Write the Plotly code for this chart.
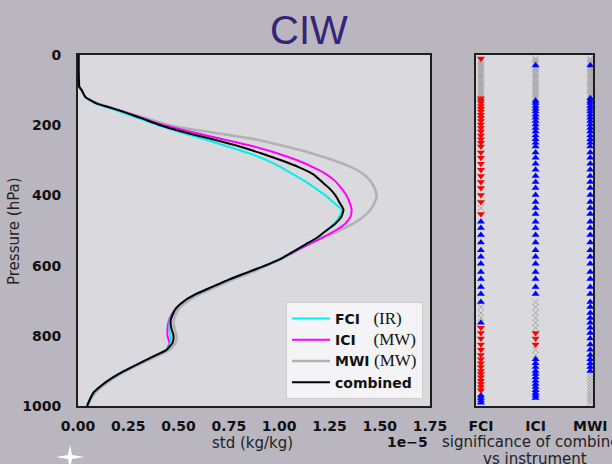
import plotly.graph_objects as go

# ---------------------------------------------------------------------------
# Standard deviation profiles (units of 1e-5 kg/kg) on pressure levels (hPa)
# ---------------------------------------------------------------------------
pressure = [0, 20, 40, 60, 80, 90, 100, 110, 120, 130, 140, 150, 160, 170, 180,
            200, 220, 240, 260, 280, 300, 320, 340, 360, 380, 400, 420, 440, 460,
            480, 500, 520, 540, 560, 580, 600, 620, 640, 660, 680, 700, 720, 740,
            760, 780, 800, 820, 840, 860, 880, 900, 920, 940, 960, 980, 1000]

std_fci = [0.003, 0.003, 0.003, 0.004, 0.005, 0.006, 0.018, 0.027, 0.037, 0.06,
           0.095, 0.15, 0.20, 0.25, 0.30, 0.40, 0.51, 0.63, 0.74, 0.85, 0.94,
           1.01, 1.07, 1.13, 1.18, 1.23, 1.27, 1.31, 1.30, 1.275, 1.235, 1.19,
           1.13, 1.07, 1.01, 0.93, 0.84, 0.75, 0.67, 0.59, 0.53, 0.49, 0.47,
           0.455, 0.455, 0.46, 0.46, 0.44, 0.37, 0.30, 0.23, 0.17, 0.12, 0.08,
           0.06, 0.045]

std_ici = [0.003, 0.003, 0.003, 0.004, 0.005, 0.006, 0.018, 0.027, 0.037, 0.065,
           0.10, 0.16, 0.215, 0.27, 0.32, 0.43, 0.57, 0.72, 0.87, 0.99, 1.09,
           1.17, 1.235, 1.28, 1.31, 1.335, 1.35, 1.36, 1.355, 1.33, 1.28, 1.215,
           1.145, 1.075, 1.01, 0.93, 0.84, 0.75, 0.67, 0.59, 0.53, 0.49, 0.465,
           0.45, 0.445, 0.445, 0.455, 0.44, 0.37, 0.30, 0.23, 0.17, 0.12, 0.08,
           0.06, 0.045]

std_mwi = [0.003, 0.003, 0.003, 0.004, 0.005, 0.006, 0.018, 0.027, 0.038, 0.07,
           0.11, 0.17, 0.225, 0.28, 0.34, 0.45, 0.66, 0.88, 1.03, 1.16, 1.27,
           1.36, 1.42, 1.455, 1.475, 1.485, 1.475, 1.455, 1.42, 1.37, 1.30, 1.22,
           1.14, 1.08, 1.015, 0.94, 0.86, 0.77, 0.69, 0.61, 0.55, 0.505, 0.485,
           0.475, 0.48, 0.49, 0.485, 0.455, 0.385, 0.31, 0.24, 0.18, 0.13, 0.09,
           0.065, 0.05]

std_combined = [0.003, 0.003, 0.003, 0.004, 0.005, 0.006, 0.018, 0.027, 0.037,
                0.065, 0.10, 0.16, 0.215, 0.265, 0.315, 0.41, 0.53, 0.67, 0.80,
                0.91, 1.01, 1.10, 1.17, 1.21, 1.25, 1.28, 1.30, 1.32, 1.31, 1.28,
                1.235, 1.19, 1.13, 1.07, 1.01, 0.93, 0.84, 0.75, 0.67, 0.59, 0.53,
                0.49, 0.47, 0.46, 0.465, 0.475, 0.47, 0.44, 0.37, 0.30, 0.23,
                0.17, 0.12, 0.08, 0.06, 0.045]

# ---------------------------------------------------------------------------
# Significance of combined vs single instrument on model levels
#   u = combined significantly better, d = significantly worse, x = not significant
# ---------------------------------------------------------------------------
sig_levels = [10, 15, 20, 25, 30, 35, 40, 45, 50, 55, 60, 65, 70, 75, 80, 85, 90,
              95, 100, 105, 110, 115, 119,
              123, 130, 137, 145, 153, 161, 170, 179, 188, 198, 208, 218, 229,
              240, 250, 261,
              278, 293, 310, 327, 345, 362, 379, 399, 419, 436, 453, 475, 493,
              513, 534, 556, 575, 595, 618, 638, 661, 681, 704,
              718, 735, 749, 763, 777, 792, 808, 825, 840, 855, 867, 878, 889,
              900, 909, 918, 928, 937, 946, 955, 963, 970, 977, 984, 991]

sig_fci = ("d" + "x" * 22 +
           "d" * 16 +
           "d" * 9 + "x" + "d" + "u" * 12 +
           "xxx" + "u" + "d" * 16 + "x" + "u" * 4)
sig_ici = ("xxxx" + "u" + "x" * 18 +
           "x" + "u" * 15 +
           "u" * 22 + "x" +
           "x" * 5 + "ddd" + "xx" + "u" * 13)
sig_mwi = ("xxxx" + "u" + "x" * 18 +
           "u" * 16 +
           "u" * 23 +
           "u" * 14 + "x" * 11)

instruments = ["FCI", "ICI", "MWI"]
sig_codes = {"FCI": sig_fci, "ICI": sig_ici, "MWI": sig_mwi}

x_ticks = [0.00, 0.25, 0.50, 0.75, 1.00, 1.25, 1.50, 1.75]
y_ticks = [0, 200, 400, 600, 800, 1000]

# ---------------------------------------------------------------------------
W, H = 612, 464


def px(x):
    return x / W


def py(y):
    return 1 - y / H


BG = "#b9b6c0"
PLOT_BG = "#dad9de"
FRAME = "#1e1e1e"

fig = go.Figure()

serif = "font-family:'Liberation Serif',serif;font-weight:normal;font-size:17px"
profiles = [
    ("MWI", std_mwi, "#b2b2b2", 2.6, "<b>MWI</b> <span style=\"%s\">(MW)</span>" % serif, 3),
    ("ICI", std_ici, "#ff00ff", 2.0, "<b>ICI</b>    <span style=\"%s\">(MW)</span>" % serif, 2),
    ("FCI", std_fci, "#00f0f0", 2.0, "<b>FCI</b>   <span style=\"%s\">(IR)</span>" % serif, 1),
    ("combined", std_combined, "#000000", 2.0, "<b>combined</b>", 4),
]
for key, vals, color, width, label, rank in profiles:
    fig.add_trace(go.Scatter(
        x=vals, y=pressure, mode="lines", name=label, legendrank=rank,
        line=dict(color=color, width=width, shape="spline", smoothing=0.5),
        xaxis="x", yaxis="y", showlegend=True,
    ))

marker_styles = {
    "u": dict(symbol="triangle-up", color="#0000ff", size=7, line=dict(width=0)),
    "d": dict(symbol="triangle-down", color="#ff0000", size=7, line=dict(width=0)),
    "x": dict(symbol="x-thin", color="#a5a5a5", size=6,
              line=dict(width=1, color="#a5a5a5")),
}
for code in ["x", "u", "d"]:
    xs, ys = [], []
    for inst in instruments:
        for lev, c in zip(sig_levels, sig_codes[inst]):
            if c == code:
                xs.append(inst)
                ys.append(lev)
    fig.add_trace(go.Scatter(
        x=xs, y=ys, mode="markers", marker=marker_styles[code],
        xaxis="x2", yaxis="y2", showlegend=False,
    ))

tick_font = dict(family="DejaVu Sans", size=14, color="#111111", weight="bold")
axis_common = dict(showgrid=False, zeroline=False, showline=True, mirror=True,
                   linecolor=FRAME, linewidth=2, ticks="", automargin=False)

fig.update_layout(
    width=W, height=H,
    margin=dict(l=0, r=0, t=0, b=0, autoexpand=False),
    paper_bgcolor=BG, plot_bgcolor=PLOT_BG,
    xaxis=dict(domain=[px(78), px(430)], range=[0, 1.75], tickvals=x_ticks,
               ticktext=["%.2f" % v for v in x_ticks], tickfont=tick_font,
               ticklabelstandoff=6, anchor="y", **axis_common),
    yaxis=dict(domain=[py(406), py(55)], range=[1000, 0], tickvals=y_ticks,
               tickfont=tick_font, ticklabelstandoff=12, anchor="x", **axis_common),
    xaxis2=dict(domain=[px(476), px(593)], type="category",
                categoryorder="array", categoryarray=instruments,
                range=[-0.09, 2.05], tickfont=tick_font, ticklabelstandoff=6,
                anchor="y2", **axis_common),
    yaxis2=dict(domain=[py(406), py(55)], range=[1000, 0], showticklabels=False,
                anchor="x2", **axis_common),
    legend=dict(x=px(423), y=py(399), xanchor="right", yanchor="bottom",
                bgcolor="rgba(246,246,248,0.95)", bordercolor="#cfcfd2",
                borderwidth=1, font=dict(family="DejaVu Sans", size=14, color="#111111"),
                itemwidth=38, tracegroupgap=0),
    showlegend=True,
)

annotations = [
    dict(text="CIW", x=px(309), y=py(30),
         font=dict(family="Liberation Sans", size=40, color="#35247a")),
    dict(text="Pressure (hPa)", x=px(14), y=py(231), textangle=-90,
         font=dict(family="DejaVu Sans", size=15, color="#222222")),
    dict(text="std (kg/kg)", x=px(253), y=py(443),
         font=dict(family="DejaVu Sans", size=15, color="#222222")),
    dict(text="<b>1e\u22125</b>", x=px(407), y=py(442),
         font=dict(family="DejaVu Sans", size=14, color="#111111")),
    dict(text="significance of combined", x=px(535), y=py(442),
         font=dict(family="DejaVu Sans", size=15, color="#222222")),
    dict(text="vs instrument", x=px(535), y=py(459),
         font=dict(family="DejaVu Sans", size=15, color="#222222")),
]
for a in annotations:
    a.update(xref="paper", yref="paper", showarrow=False, xanchor="center",
             yanchor="middle")
fig.update_layout(annotations=annotations)

# four-point sparkle in the lower-left corner
cx, cy = 70, 457
pts = [(cx - 14, cy), (cx - 2, cy - 2), (cx, cy - 12), (cx + 2, cy - 2),
       (cx + 14, cy), (cx + 2, cy + 2), (cx, cy + 12), (cx - 2, cy + 2)]
path = "M " + " L ".join("%.5f,%.5f" % (px(a), py(b)) for a, b in pts) + " Z"
fig.add_shape(type="path", path=path, xref="paper", yref="paper",
              fillcolor="white", line=dict(width=0), layer="above")

fig.write_html("out.html")
